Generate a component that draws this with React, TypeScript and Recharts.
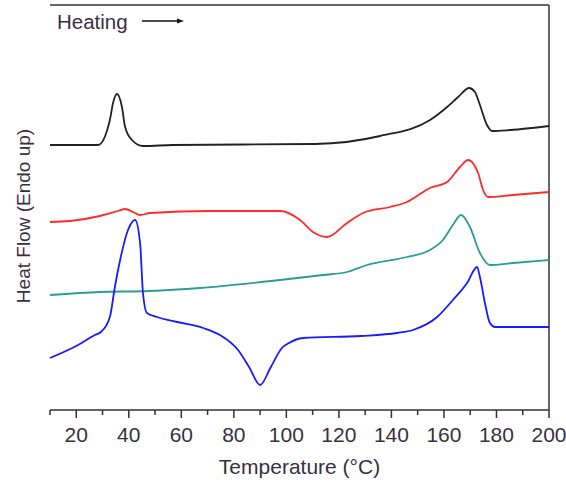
import React from 'react';
import { LineChart, Line, XAxis, YAxis, ReferenceLine } from 'recharts';

// temperatures (°C) and heat flow (arbitrary units, endo up)
const blackTemp = [10, 28.3, 32.8, 34, 35.5, 37.4, 38.6, 41.2, 45.4, 56.8, 110.9, 135.7, 154.7, 161.2, 165.4, 169.6, 171.8, 173.7, 176.4, 178.3, 185.2, 200];
const blackFlow = [265, 265, 290, 307, 316, 303, 283, 270, 264, 265, 266, 274, 290, 303, 313, 322, 318, 305, 285, 279, 280, 284];

const redTemp = [10, 17.6, 29, 34.7, 38.6, 41.6, 44.3, 48, 71, 97.6, 105.2, 110.1, 115.5, 123.1, 129.2, 139.5, 145.9, 154.7, 161.2, 166.1, 169.2, 173, 174.9, 176.8, 186.3, 200];
const redFlow = [188, 189, 194, 198, 201, 198, 195, 197, 199, 199, 190, 178, 173, 187, 197, 203, 208, 222, 228, 243, 250, 237, 220, 213, 215, 218];

const tealTemp = [10, 29, 48, 67.1, 97.6, 114, 123.1, 130.7, 145.9, 154.7, 159.6, 163.4, 166.5, 169.9, 173.7, 177.5, 186.3, 200];
const tealFlow = [115, 118, 119, 122, 130, 135, 138, 145, 153, 160, 170, 185, 195, 183, 157, 145, 147, 150];

const blueTemp = [10, 20.7, 27.1, 29.4, 32.8, 34.7, 36.7, 39.7, 42.4, 44.3, 45.4, 46.9, 50.7, 58.4, 68.3, 74.7, 81.6, 85.8, 90, 94.1, 98.3, 101, 106.3, 128.4, 142.1, 148.2, 157.4, 163.4, 168.8, 172.6, 173.7, 175.6, 177.5, 179.4, 200];
const blueFlow = [52, 65, 75, 78, 93, 123, 150, 180, 190, 167, 117, 97, 93, 88, 82, 75, 60, 43, 25, 43, 62, 67, 72, 74, 77, 80, 93, 110, 127, 143, 133, 107, 87, 83, 83];

const xTicks = [10, 20, 30, 40, 50, 60, 70, 80, 90, 100, 110, 120, 130, 140, 150, 160, 170, 180, 190, 200];

const zip = (t: number[], v: number[]) => t.map((x, i) => ({ t: x, v: v[i] }));

const FONT = '"Liberation Sans", Arial, sans-serif';
const AXIS = '#333333';

const TempTick = (props: any) => {
  const { x, y, payload } = props;
  const major = payload.value % 20 === 0;
  return (
    <g>
      <line x1={x} y1={y} x2={x} y2={y + (major ? 8 : 5)} stroke={AXIS} strokeWidth={1.5} />
      {major && (
        <text x={x} y={y + 32} textAnchor="middle" fontFamily={FONT} fontSize={21} fill="#383040">
          {payload.value}
        </text>
      )}
    </g>
  );
};

export default function App() {
  return (
    <div style={{ position: 'absolute', left: 0, top: 0, width: 566, height: 485, background: '#fff' }}>
      <LineChart width={566} height={485} margin={{ top: 5, right: 17, left: 50, bottom: 0 }}>
        <XAxis
          type="number"
          dataKey="t"
          domain={[10, 200]}
          ticks={xTicks}
          interval={0}
          tick={<TempTick />}
          tickLine={false}
          tickSize={0}
          tickMargin={0}
          height={75}
          axisLine={{ stroke: AXIS, strokeWidth: 1.5 }}
          label={{ value: 'Temperature (°C)', position: 'insideBottom', offset: 11, fontFamily: FONT, fontSize: 21, fill: '#383040' }}
        />
        <YAxis
          type="number"
          domain={[0, 405]}
          width={0}
          tick={false}
          tickLine={false}
          axisLine={{ stroke: AXIS, strokeWidth: 1.5 }}
        />
        <ReferenceLine x={200} stroke={AXIS} strokeWidth={1.5} />
        <ReferenceLine y={405} stroke={AXIS} strokeWidth={1.5} />
        <Line data={zip(blackTemp, blackFlow)} dataKey="v" type="monotone" stroke="#222222" strokeWidth={1.8} dot={false} isAnimationActive={false} />
        <Line data={zip(redTemp, redFlow)} dataKey="v" type="monotone" stroke="#ff2a2a" strokeWidth={1.8} dot={false} isAnimationActive={false} />
        <Line data={zip(tealTemp, tealFlow)} dataKey="v" type="monotone" stroke="#2a9d94" strokeWidth={1.8} dot={false} isAnimationActive={false} />
        <Line data={zip(blueTemp, blueFlow)} dataKey="v" type="monotone" stroke="#1a1aff" strokeWidth={1.8} dot={false} isAnimationActive={false} />
      </LineChart>
      <svg width={566} height={485} style={{ position: 'absolute', left: 0, top: 0, pointerEvents: 'none' }}>
        <text x={57} y={29} fontFamily={FONT} fontSize={20.5} fill="#3a3040">Heating</text>
        <line x1={142} y1={21} x2={179} y2={21} stroke="#111" strokeWidth={1.5} />
        <path d="M177,18.5 L184,21 L177,23.5 Z" fill="#111" />
        <text
          x={0}
          y={0}
          transform="translate(30,216) rotate(-90)"
          textAnchor="middle"
          fontFamily={FONT}
          fontSize={19}
          fill="#383040"
        >
          Heat Flow (Endo up)
        </text>
      </svg>
    </div>
  );
}
